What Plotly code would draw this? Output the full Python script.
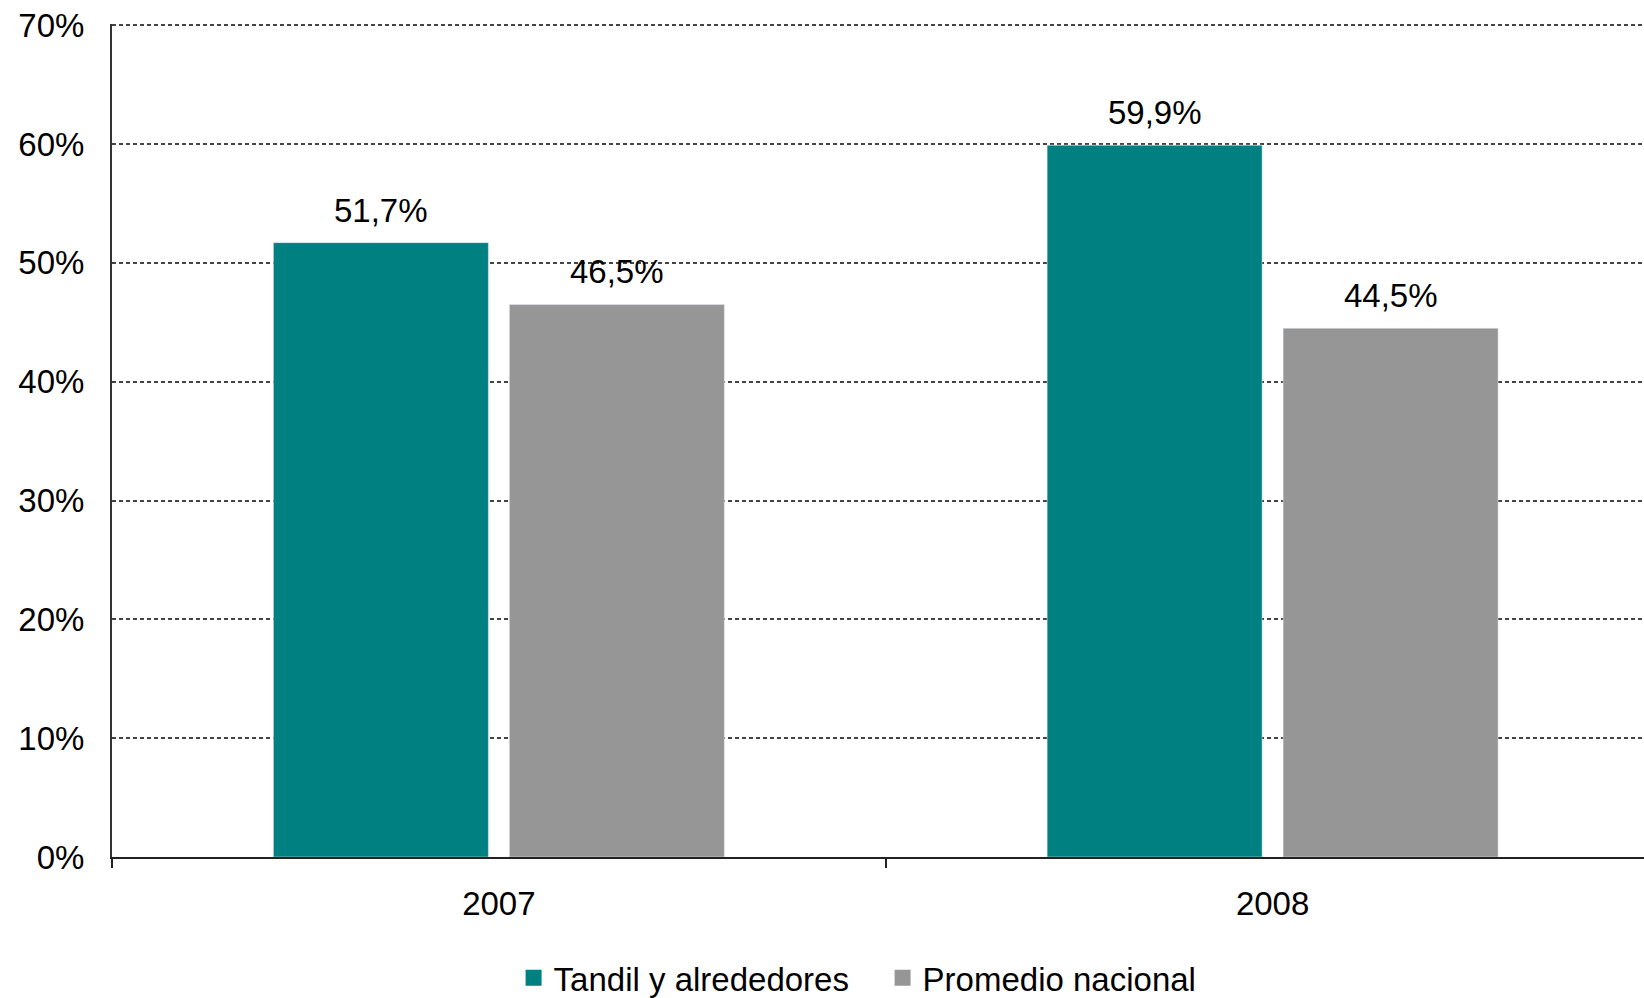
import plotly.graph_objects as go

categories = ["2007", "2008"]
series_names = ["Tandil y alrededores", "Promedio nacional"]
tandil = [51.7, 59.9]
nacional = [46.5, 44.5]
colors = ["#008080", "#969696"]
y_ticks = [0, 10, 20, 30, 40, 50, 60, 70]
y_tick_labels = [f"{v}%" for v in y_ticks]

FONT = "Liberation Sans, Arial, sans-serif"
FS = 33
BARGAP = 0.39
BARGROUPGAP = 0.089


def fmt(v):
    return f"{v:.1f}%".replace(".", ",")


fig = go.Figure()
series = [tandil, nacional]
n = len(series)
slot = (1 - BARGAP) / n
for k, (name, vals, col) in enumerate(zip(series_names, series, colors)):
    fig.add_trace(go.Bar(
        x=categories, y=vals, name=name, marker_color=col,
        showlegend=False,
    ))
    fig.add_trace(go.Scatter(
        x=[None], y=[None], mode="markers", name=name,
        marker=dict(symbol="square", size=16, color=col),
        showlegend=True,
    ))
    off = -(1 - BARGAP) / 2 + slot * (k + 0.5)
    for i, v in enumerate(vals):
        fig.add_annotation(
            x=i + off, y=v, xref="x", yref="y", text=fmt(v),
            showarrow=False, yanchor="bottom", yshift=12,
            font=dict(size=FS, color="black", family=FONT),
        )

fig.update_layout(
    width=1644, height=998,
    margin=dict(l=112, r=0, t=24, b=141, autoexpand=False),
    plot_bgcolor="white", paper_bgcolor="white",
    barmode="group", bargap=BARGAP, bargroupgap=BARGROUPGAP,
    font=dict(family=FONT, size=FS, color="black"),
    legend=dict(orientation="h", x=0.503, xanchor="center", y=-0.145,
                yanchor="middle", font=dict(size=FS), itemwidth=30,
                entrywidth=324, tracegroupgap=0),
)
fig.update_xaxes(
    range=[-0.5, 1.48],
    showline=True, linecolor="#222222", linewidth=2,
    ticks="outside", tickson="boundaries", ticklen=9, tickcolor="#222222",
    tickwidth=1.5, showgrid=False, ticklabelstandoff=16,
    tickfont=dict(size=FS), automargin=False,
)
fig.update_yaxes(
    range=[0, 70.1], tickvals=y_ticks, ticktext=y_tick_labels,
    showline=True, linecolor="#333333", linewidth=2,
    showgrid=True, gridcolor="#444444", gridwidth=1.5, griddash="4px,3px",
    zeroline=False, ticks="", ticklabelstandoff=19,
    ticklabeloverflow="allow",
    tickfont=dict(size=FS), automargin=False,
)

fig.write_html(
    "out.html",
    config={"displayModeBar": False},
    post_script="document.body.style.margin='0';document.body.style.overflow='hidden';",
)
